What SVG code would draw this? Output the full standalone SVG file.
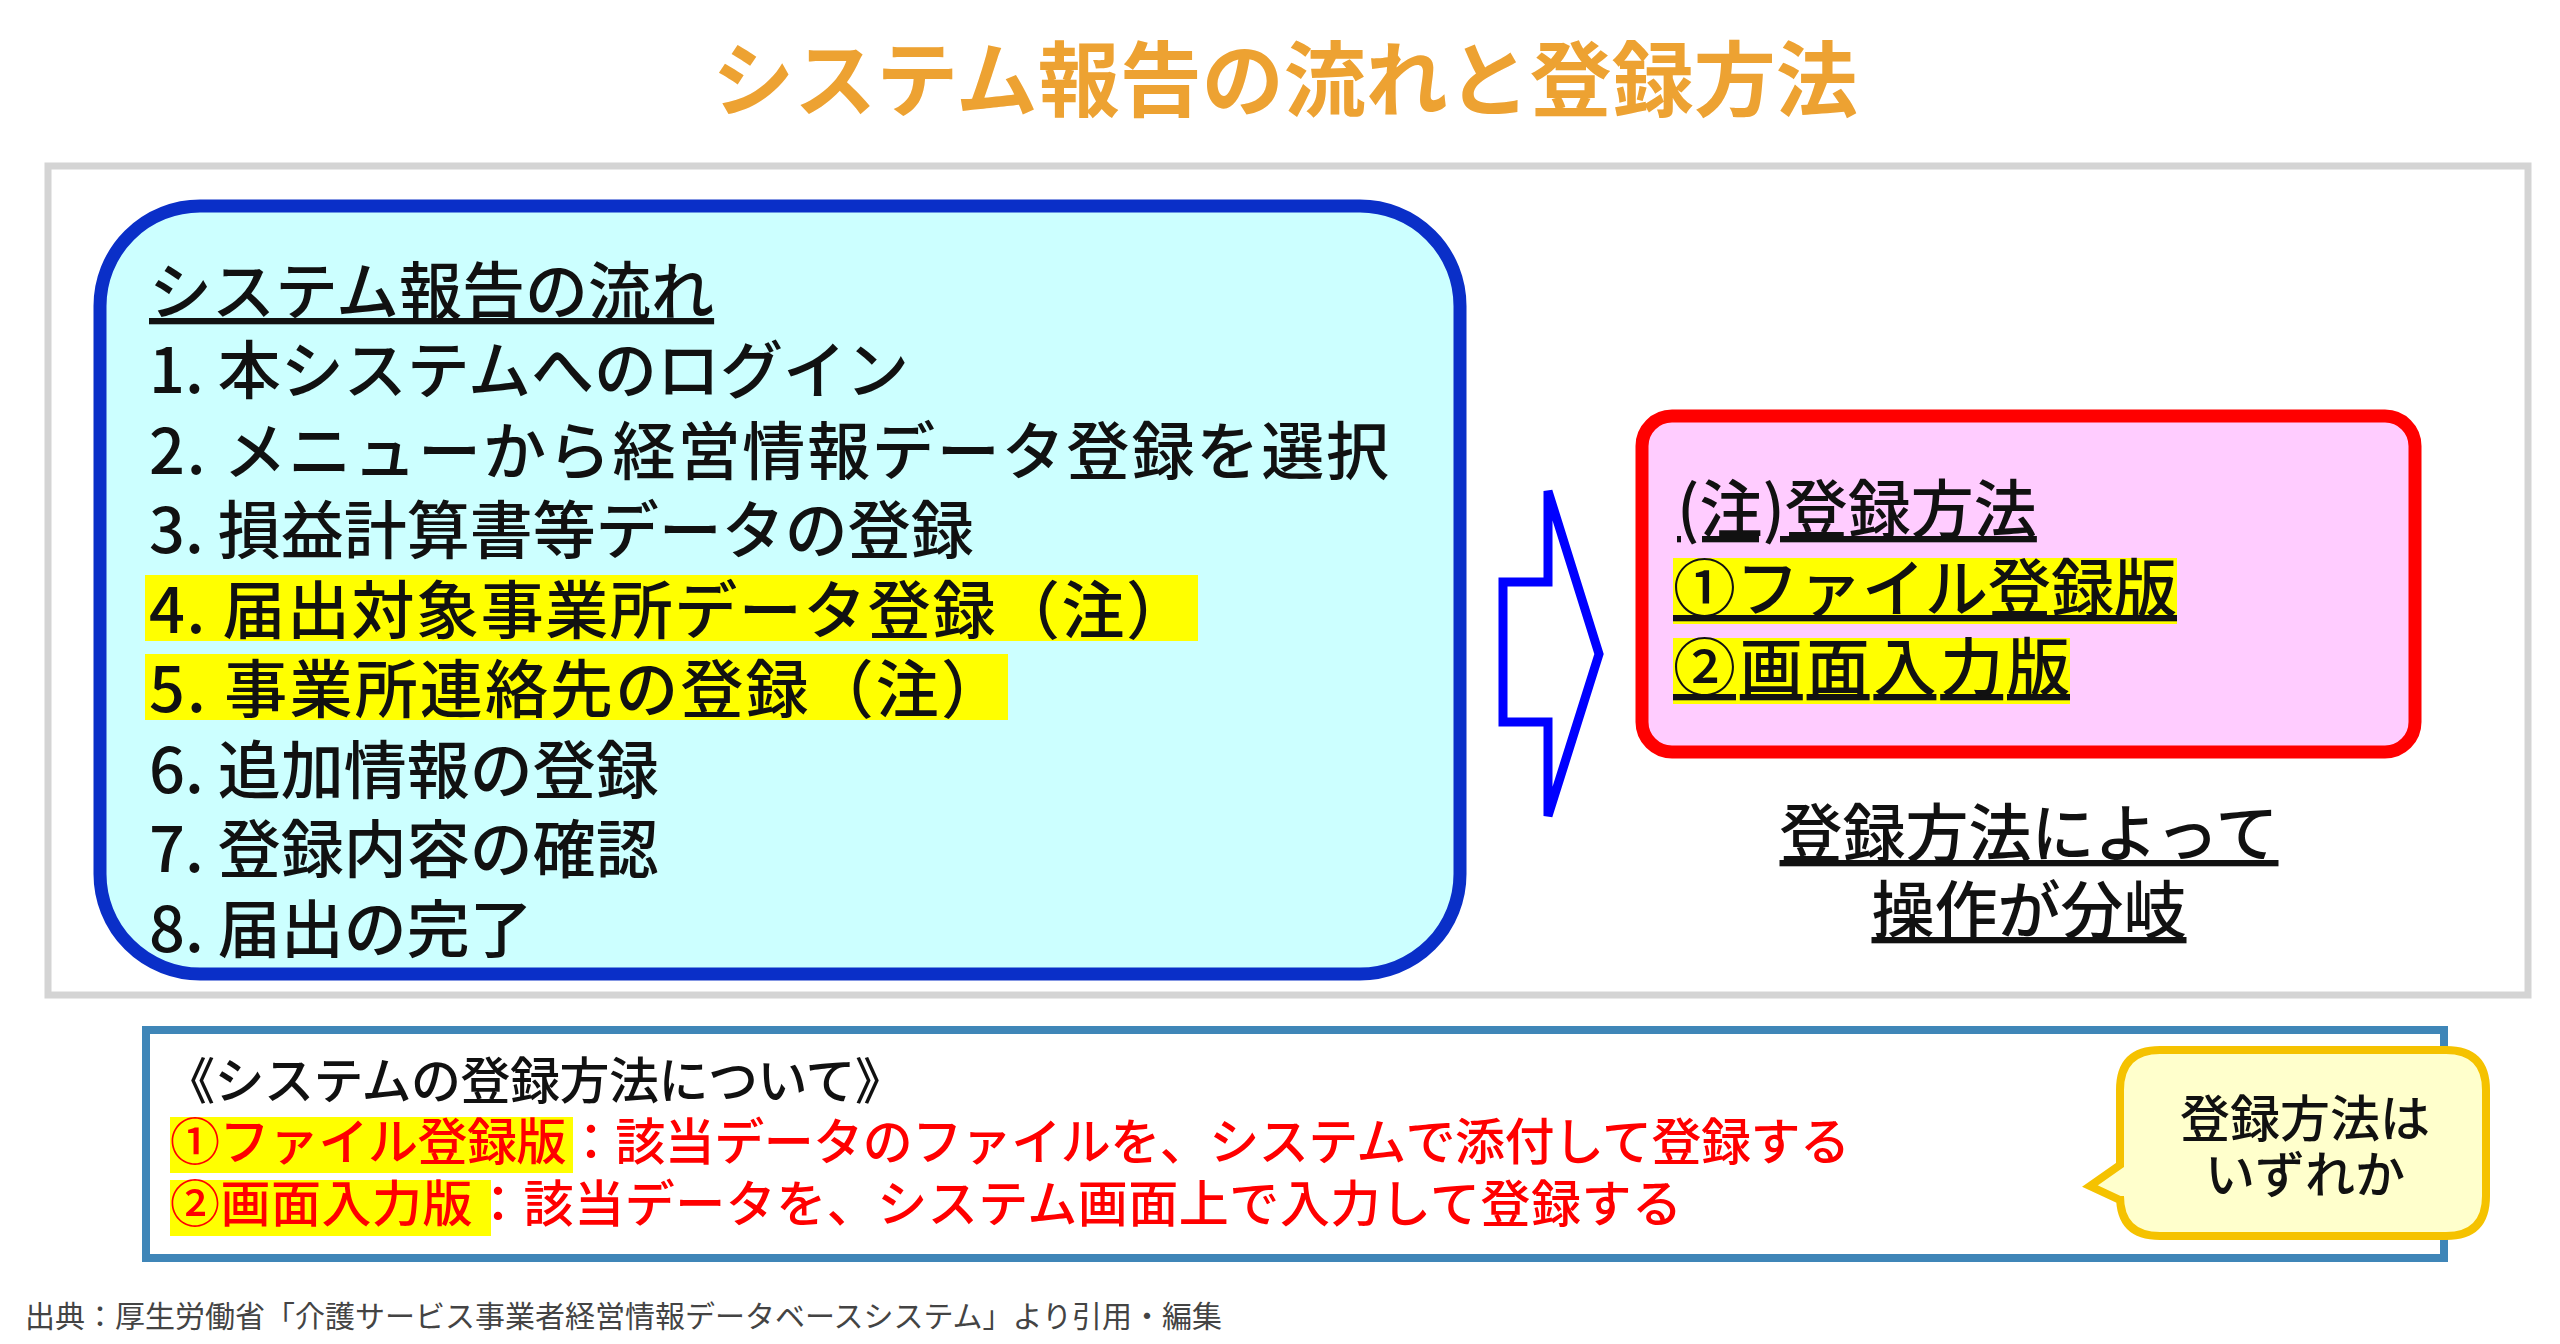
<svg xmlns="http://www.w3.org/2000/svg" width="2560" height="1344" viewBox="0 0 2560 1344">
<style>
text{font-family:"Noto Sans CJK JP","Noto Sans",sans-serif;}
.t{font-size:63px;font-weight:500;fill:#111;}
.u{text-decoration:underline;}
.s{font-size:50px;font-weight:500;}
.hl{fill:#ffff00;}
</style>
<rect width="2560" height="1344" fill="#fff"/>
<text x="1285" y="110" text-anchor="middle" font-size="82" font-weight="700" fill="#eda232">システム報告の流れと登録方法</text>
<rect x="48" y="166" width="2480" height="829" fill="#fff" stroke="#d4d4d4" stroke-width="7"/>
<g id="flow">
<rect x="100" y="206" width="1360" height="768" rx="100" fill="#ccffff" stroke="#0a2fc8" stroke-width="13"/>
<rect class="hl" x="145" y="575" width="1053" height="66"/>
<rect class="hl" x="145" y="654" width="863" height="66"/>
<text class="t u" x="149" y="314">システム報告の流れ</text>
<text class="t" x="149" y="393">1. 本システムへのログイン</text>
<text class="t" x="149" y="474" textLength="1240">2. メニューから経営情報データ登録を選択</text>
<text class="t" x="149" y="553">3. 損益計算書等データの登録</text>
<text class="t" x="149" y="633" textLength="1040">4. 届出対象事業所データ登録（注）</text>
<text class="t" x="149" y="712" textLength="855">5. 事業所連絡先の登録（注）</text>
<text class="t" x="149" y="793">6. 追加情報の登録</text>
<text class="t" x="149" y="872">7. 登録内容の確認</text>
<text class="t" x="149" y="952">8. 届出の完了</text>
</g>
<g id="connectors">
<polygon points="1503,582 1548,582 1548,491 1599,654 1548,816 1548,722 1503,722" fill="#fff" stroke="#0000ff" stroke-width="9"/>
</g>
<g id="method">
<rect x="1642" y="416" width="773" height="336" rx="30" fill="#ffccff" stroke="#ff0000" stroke-width="13"/>
<rect class="hl" x="1673" y="558" width="504" height="66"/>
<rect class="hl" x="1673" y="638" width="397" height="66"/>
<text class="t u" x="1677" y="532">(注)登録方法</text>
<text class="t u" x="1673" y="611" textLength="504">①ファイル登録版</text>
<text class="t u" x="1673" y="690" textLength="397">②画面入力版</text>
</g>
<g id="note">
<text class="t u" x="2029" y="856" text-anchor="middle">登録方法によって</text>
<text class="t u" x="2029" y="933" text-anchor="middle">操作が分岐</text>
</g>
<g id="about">
<rect x="146" y="1030" width="2298" height="228" fill="#fff" stroke="#3f86b8" stroke-width="8"/>
<rect class="hl" x="170" y="1117" width="403" height="56"/>
<rect class="hl" x="170" y="1180" width="321" height="56"/>
<text class="s" x="165" y="1099" fill="#111" textLength="740">《システムの登録方法について》</text>
<text class="s" x="170" y="1160" fill="#ff0000" textLength="1680">①ファイル登録版：該当データのファイルを、システムで添付して登録する</text>
<text class="s" x="170" y="1222" fill="#ff0000" textLength="1512">②画面入力版：該当データを、システム画面上で入力して登録する</text>
</g>
<g id="callout">
<path d="M2160,1050 H2446 Q2486,1050 2486,1090 V1196 Q2486,1236 2446,1236 H2160 Q2120,1236 2120,1196 V1200 L2090,1186 L2120,1165 V1090 Q2120,1050 2160,1050 Z" fill="#ffffcc" stroke="#f5c200" stroke-width="8"/>
<text class="s" x="2305" y="1137" text-anchor="middle" fill="#111">登録方法は</text>
<text class="s" x="2305" y="1193" text-anchor="middle" fill="#111">いずれか</text>
</g>
<text x="25" y="1327" font-size="30" fill="#444">出典：厚生労働省「介護サービス事業者経営情報データベースシステム」より引用・編集</text>
</svg>
